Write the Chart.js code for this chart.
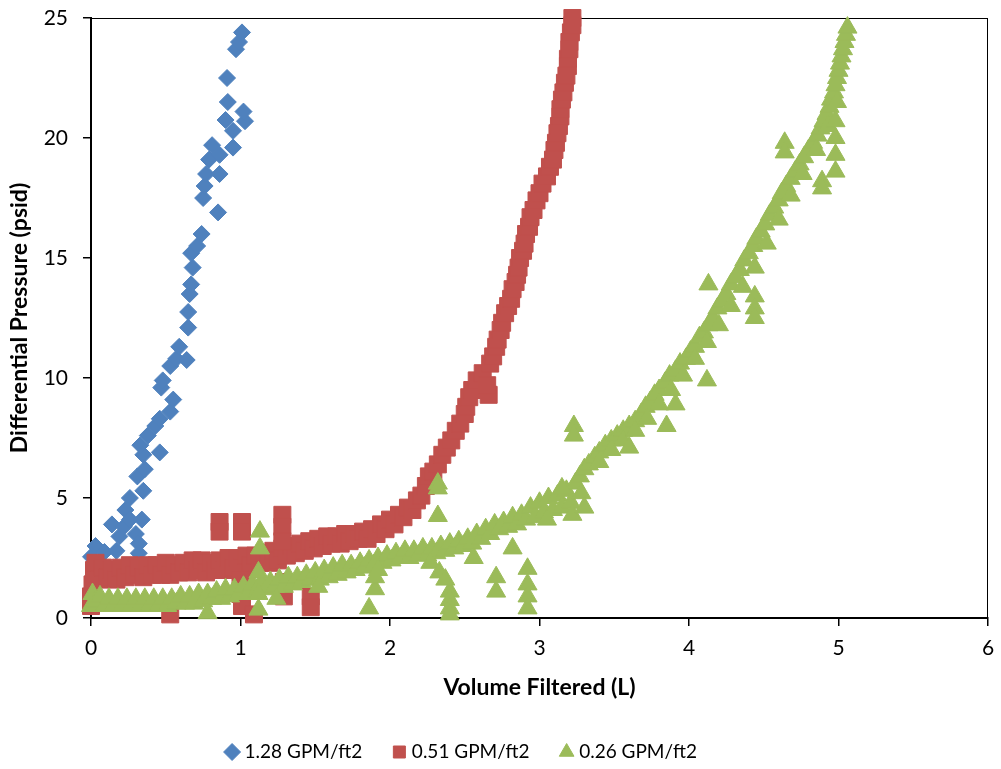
<!DOCTYPE html>
<html lang="en">
<head>
<meta charset="UTF-8">
<title>Differential Pressure vs Volume Filtered</title>
<style>
    body { margin: 0; background: #fff; }
    #wrap { width: 1001px; height: 769px; }
</style>
<script src="https://cdn.jsdelivr.net/npm/chart.js"></script>
</head>
<body>
<div id="wrap"><canvas id="chart" width="1001" height="769"></canvas></div>
<script>
// series names, as in the legend
const seriesNames = ["1.28 GPM/ft2", "0.51 GPM/ft2", "0.26 GPM/ft2"];

// [volume L, dP psid]
const blueData = [
    [0.00,2.55],[0.03,3.0],[0.09,2.75],[0.14,3.9],[0.17,2.8],[0.19,3.4],[0.22,3.8],[0.23,4.5],
    [0.26,4.1],[0.26,5.0],[0.30,3.5],[0.32,3.1],[0.32,2.7],[0.34,4.1],[0.35,5.3],[0.31,5.9],
    [0.36,6.2],[0.35,6.8],[0.33,7.2],[0.46,6.9],[0.38,7.6],[0.43,8.0],[0.46,8.3],[0.53,8.6],
    [0.55,9.1],[0.47,9.6],[0.48,9.9],[0.53,10.5],[0.57,10.8],[0.64,10.75],[0.59,11.3],[0.65,12.1],
    [0.65,12.75],[0.66,13.5],[0.67,13.9],[0.68,14.6],[0.67,15.2],[0.71,15.5],[0.74,16.0],[0.85,16.9],
    [0.75,17.5],[0.76,18.0],[0.77,18.5],[0.86,18.5],[0.79,19.1],[0.86,19.3],[0.81,19.7],[0.95,19.6],
    [0.95,20.3],[0.90,20.75],[1.03,20.7],[1.02,21.1],[0.915,21.5],[0.91,22.5],[0.97,23.7],[0.99,24.0],
    [1.01,24.4]
];

const redBand = [
    [0.00,0.5],[0.00,0.9],[0.01,1.4],[0.02,2.0],[0.03,2.3],[0.06,1.6],[0.08,2.1],[0.11,1.7],
    [0.14,2.0],[0.17,1.6],[0.20,2.1],[0.23,1.7],[0.26,2.2],[0.29,1.8],[0.32,2.1],[0.35,1.7],
    [0.38,2.2],[0.41,1.8],[0.44,2.2],[0.47,1.8],[0.50,2.3],[0.53,1.8],[0.56,2.2],[0.59,1.9],
    [0.62,2.3],[0.65,1.9],[0.68,2.4],[0.71,2.0],[0.74,2.4],[0.77,1.9],[0.80,2.3],[0.83,2.0],
    [0.86,2.4],[0.89,2.0],[0.92,2.5],[0.95,2.1],[0.98,2.5],[1.01,2.1],[1.04,2.6],[1.07,2.2],
    [1.10,2.6],[1.13,2.3],[1.16,2.7],[1.19,2.3],[1.22,2.8],[1.25,2.4],[1.28,2.9],[1.31,2.6],
    [1.34,3.0],[1.37,2.7],[1.40,3.1],[1.43,2.8],[1.46,3.2],[1.49,2.9],[1.52,3.3],[1.55,3.0],
    [1.58,3.4],[1.61,3.1],[1.64,3.4],[1.67,3.1],[1.70,3.5],[1.73,3.2],[1.76,3.5],[1.79,3.3],
    [1.82,3.6],[1.85,3.3],[1.88,3.7],[1.91,3.5],[1.94,3.9],[1.97,3.7],[2.00,4.1],[2.03,3.9],
    [2.06,4.3],[2.09,4.2],[2.12,4.6],[2.15,4.5],[2.18,4.9],[2.21,5.1],[2.24,5.5],[2.26,5.9],
    [2.29,6.1],[2.32,6.4],[2.35,6.8],[2.38,7.1],[2.41,7.4],[2.44,7.8],[2.47,8.1],[2.50,8.5],
    [2.51,8.8],[2.53,9.2],[2.55,9.5],[2.58,9.9],[2.62,10.2],[2.67,10.6],[2.69,10.9],[2.71,11.3],
    [2.72,11.6],[2.74,12.0],[2.75,12.3],[2.77,12.7],[2.79,13.0],[2.81,13.3],[2.82,13.7],[2.84,14.0],
    [2.85,14.3],[2.86,14.6],[2.87,15.0],[2.89,15.3],[2.90,15.6],[2.91,16.0],[2.93,16.3],[2.94,16.7],
    [2.96,17.0],[2.98,17.4],[3.00,17.7],[3.02,18.1],[3.05,18.4],[3.07,18.8],[3.09,19.1],[3.10,19.5],
    [3.11,19.8],[3.12,20.2],[3.13,20.5],[3.14,20.9],[3.14,21.2],[3.15,21.6],[3.16,21.9],[3.17,22.3],
    [3.18,22.6],[3.19,23.0],[3.19,23.3],[3.20,23.7],[3.20,24.0],[3.21,24.4],[3.22,24.7],[3.22,25.0]
];
const redOutliers = [
    [0.86,4.0],[0.86,3.6],[1.01,4.0],[1.01,3.6],[1.28,4.3],[1.28,3.8],[1.28,3.2],[1.29,1.5],
    [1.29,0.9],[1.47,0.9],[1.47,0.45],[1.00,1.6],[1.00,1.0],[1.01,0.5],[1.09,0.15],[0.53,0.15],
    [2.66,9.3],[2.65,9.7]
];

const greenBand = [
    [0.00,0.5],[0.01,1.0],[0.03,0.7],[0.06,0.9],[0.09,0.5],[0.12,0.8],[0.15,0.5],[0.18,0.8],
    [0.21,0.5],[0.24,0.8],[0.27,0.5],[0.30,0.8],[0.33,0.5],[0.36,0.8],[0.39,0.5],[0.42,0.8],
    [0.45,0.5],[0.48,0.8],[0.51,0.5],[0.54,0.8],[0.57,0.6],[0.60,0.9],[0.63,0.6],[0.66,0.9],
    [0.69,0.6],[0.72,1.0],[0.75,0.7],[0.78,1.0],[0.81,0.8],[0.84,1.1],[0.87,0.8],[0.90,1.2],
    [0.93,0.9],[0.96,1.2],[0.99,1.0],[1.02,1.3],[1.05,1.0],[1.08,1.4],[1.11,1.1],[1.14,1.5],
    [1.17,1.2],[1.20,1.5],[1.23,1.3],[1.26,1.6],[1.29,1.3],[1.32,1.7],[1.35,1.4],[1.38,1.7],
    [1.41,1.5],[1.44,1.8],[1.47,1.6],[1.50,1.9],[1.53,1.6],[1.56,2.0],[1.59,1.7],[1.62,2.1],
    [1.65,1.8],[1.68,2.2],[1.71,1.9],[1.74,2.2],[1.77,2.0],[1.80,2.3],[1.83,2.1],[1.86,2.4],
    [1.89,2.2],[1.92,2.5],[1.95,2.3],[1.98,2.6],[2.01,2.4],[2.04,2.7],[2.07,2.5],[2.10,2.8],
    [2.13,2.5],[2.16,2.8],[2.19,2.6],[2.22,2.9],[2.25,2.6],[2.28,2.9],[2.31,2.7],[2.34,3.0],
    [2.37,2.8],[2.40,3.1],[2.43,2.9],[2.46,3.2],[2.49,3.0],[2.52,3.3],[2.55,3.1],[2.58,3.5],
    [2.61,3.3],[2.64,3.7],[2.67,3.5],[2.70,3.9],[2.73,3.7],[2.76,4.0],[2.79,3.8],[2.82,4.2],
    [2.85,3.9],[2.88,4.3],[2.91,4.1],[2.94,4.6],[2.97,4.2],[3.00,4.8],[3.03,4.4],[3.06,5.0],
    [3.09,4.5],[3.12,5.1],[3.15,4.6],[3.18,5.3],[3.21,4.8],[3.24,5.6],[3.27,5.9],[3.30,6.2],
    [3.05,4.1],[3.15,5.4],[3.22,4.3],[3.28,5.2],[3.30,4.6],
    [3.33,6.4],[3.37,6.7],[3.40,6.9],[3.44,7.2],[3.48,7.4],[3.52,7.6],[3.56,7.8],[3.60,8.0],
    [3.64,8.2],[3.68,8.5],[3.71,8.8],[3.74,9.0],[3.77,9.3],[3.80,9.5],[3.84,9.8],[3.87,10.1],
    [3.91,10.3],[3.94,10.6],[3.98,10.8],[4.01,11.1],[4.04,11.3],[4.07,11.7],[4.10,11.9],[4.13,12.2],
    [4.16,12.5],[4.19,12.9],[4.22,13.2],[4.25,13.5],[4.28,13.9],[4.31,14.2],[4.34,14.5],[4.37,14.9],
    [4.40,15.2],[4.43,15.5],[4.45,15.8],[4.48,16.1],[4.51,16.4],[4.54,16.8],[4.57,17.1],[4.60,17.4],
    [4.62,17.7],[4.65,18.0],[4.68,18.3],[4.71,18.6],[4.74,18.9],[4.77,19.2],[4.80,19.5],[4.83,19.8],
    [4.86,20.1],[4.88,20.4],[4.90,20.7],[4.92,21.0],[4.94,21.3],[4.95,21.6],[4.97,21.9],[4.98,22.2],
    [4.99,22.5],[5.00,22.8],[5.01,23.1],[5.02,23.4],[5.03,23.7],[5.04,24.0],[5.05,24.3],[5.06,24.6],
    [3.40,6.5],[3.48,7.0],[3.56,7.4],[3.64,7.8],[3.72,8.3],[3.80,8.9],[3.88,9.5],[3.96,10.1],
    [4.04,10.8],[4.12,11.5],[4.20,12.2],[4.28,13.0],[4.36,13.8],[4.44,14.6],[4.52,15.6],[4.60,16.6],
    [4.68,17.6],[4.76,18.5],[4.85,19.5],[4.93,20.5],[4.99,21.5]
];
const greenOutliers = [
    [0.78,0.2],[1.13,3.6],[1.13,2.9],[1.12,1.9],[1.12,1.0],[1.12,0.35],[1.24,0.8],[1.52,1.3],
    [1.86,0.4],[1.90,1.2],[1.90,1.7],[1.92,2.0],[2.32,5.6],[2.32,5.4],[2.32,4.25],[2.40,1.1],
    [2.40,0.75],[2.40,0.4],[2.40,0.15],[2.27,2.3],[2.33,1.9],[2.37,1.6],[2.56,2.5],[2.71,1.7],
    [2.71,1.1],[2.82,2.9],[2.92,2.05],[2.92,1.4],[2.92,0.9],[2.92,0.4],[3.23,8.0],[3.23,7.6],
    [3.60,7.1],[3.85,8.0],[3.91,8.9],[4.12,9.9],[4.13,13.9],[4.44,13.4],[4.44,12.9],[4.44,12.5],
    [4.64,19.8],[4.64,19.4],[4.89,18.2],[4.89,17.9],[4.98,18.6],[4.98,19.3],[4.98,20.0],[4.98,20.7]
];

const xTicks = { min: 0, max: 6, step: 1 };
const yTicks = { min: 0, max: 25, step: 5 };

function toPoints(list) {
    return list.map(p => ({ x: p[0], y: p[1] }));
}

const font = "Lato, 'Liberation Sans', sans-serif";

// frame round the plot area (top and right edges, like Excel)
const plotFrame = {
    id: "plotFrame",
    beforeDatasetsDraw(chart) {
        const a = chart.chartArea;
        const ctx = chart.ctx;
        ctx.save();
        ctx.strokeStyle = "#000";
        ctx.lineWidth = 1;
        ctx.strokeRect(a.left, a.top + 0.5, a.right - a.left - 0.5, a.bottom - a.top);
        ctx.restore();
    }
};

// Excel puts the legend a little left of centre
const legendShift = {
    id: "legendShift",
    afterLayout(chart) {
        chart.legend.left -= 35;
        chart.legend.right -= 35;
    }
};

new Chart(document.getElementById("chart"), {
    type: "scatter",
    data: {
        datasets: [
            {
                label: seriesNames[0],
                data: toPoints(blueData),
                pointStyle: "rectRot",
                pointRadius: 8.5,
                backgroundColor: "#4F81BD",
                borderColor: "#4F81BD",
                borderWidth: 1,
                order: 2
            },
            {
                label: seriesNames[1],
                data: toPoints(redBand.concat(redOutliers)),
                pointStyle: "rect",
                pointRadius: 12,
                backgroundColor: "#C0504D",
                borderColor: "#C0504D",
                borderWidth: 1,
                order: 1
            },
            {
                label: seriesNames[2],
                data: toPoints(greenBand.concat(greenOutliers)),
                pointStyle: "triangle",
                pointRadius: 11,
                backgroundColor: "#9BBB59",
                borderColor: "#9BBB59",
                borderWidth: 1,
                order: 0
            }
        ]
    },
    options: {
        responsive: false,
        devicePixelRatio: 1,
        animation: false,
        clip: false,
        layout: { padding: { left: 6, right: 11, top: 18, bottom: -2.5 } },
        plugins: {
            tooltip: { enabled: false },
            legend: {
                position: "bottom",
                labels: {
                    usePointStyle: true,
                    boxWidth: 6,
                    boxHeight: 12,
                    padding: 34,
                    color: "#000",
                    font: { family: font, size: 19 },
                    sort: (a, b) => a.datasetIndex - b.datasetIndex
                }
            }
        },
        scales: {
            x: {
                type: "linear",
                min: xTicks.min,
                max: xTicks.max,
                afterFit: s => { s.height = 90.5; s.paddingLeft = 0; s.paddingRight = 0; },
                border: { color: "#000", width: 2 },
                grid: { drawOnChartArea: false, drawTicks: true, tickLength: 8, color: "#000", lineWidth: 1.5 },
                ticks: { stepSize: xTicks.step, color: "#000", padding: 10, font: { family: font, size: 21 } },
                title: {
                    display: true,
                    text: "Volume Filtered (L)",
                    color: "#000",
                    font: { family: font, size: 23, weight: "bold" },
                    padding: { top: 0, bottom: 6.7 }
                }
            },
            y: {
                type: "linear",
                min: yTicks.min,
                max: yTicks.max,
                afterFit: s => { s.width = 85; s.paddingTop = 0; s.paddingBottom = 0; },
                border: { color: "#000", width: 2 },
                grid: { drawOnChartArea: false, drawTicks: true, tickLength: 8, color: "#000", lineWidth: 1.5 },
                ticks: { stepSize: yTicks.step, color: "#000", padding: 15, font: { family: font, size: 21 } },
                title: {
                    display: true,
                    text: "Differential Pressure (psid)",
                    color: "#000",
                    font: { family: font, size: 23, weight: "bold" },
                    padding: { top: 0, bottom: 0 }
                }
            }
        }
    },
    plugins: [plotFrame, legendShift]
});
</script>
</body>
</html>
